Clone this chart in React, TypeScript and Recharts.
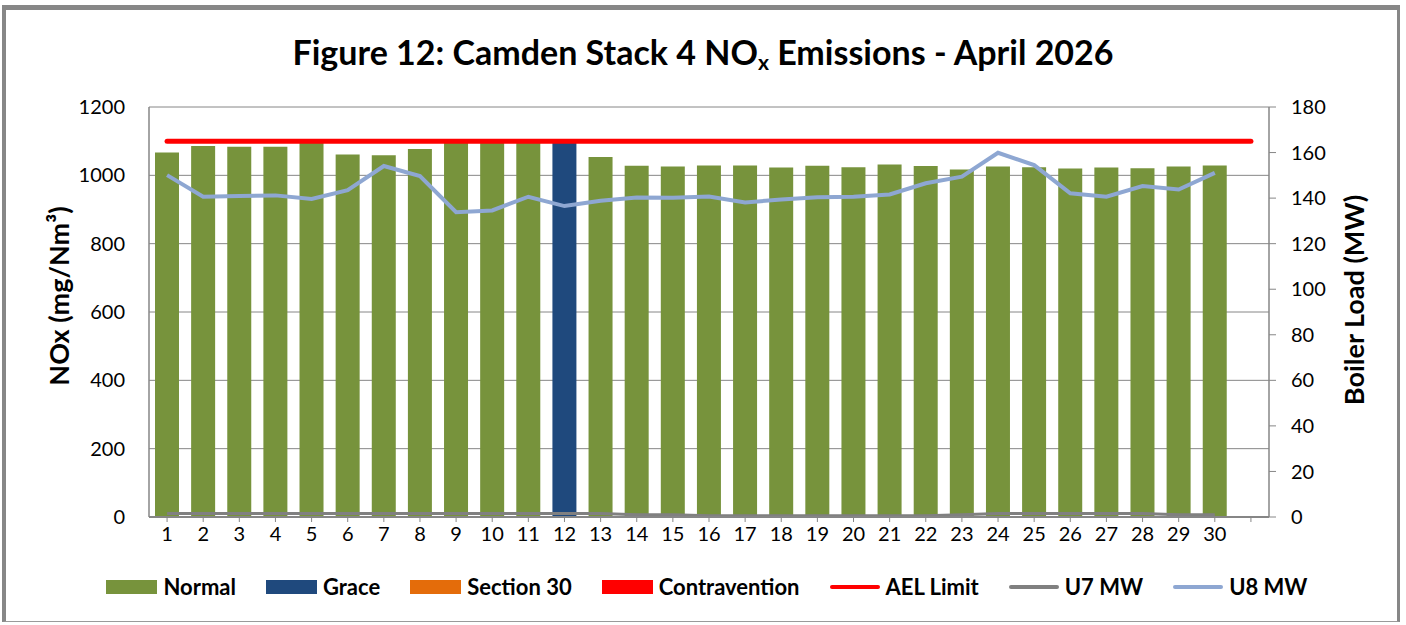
import { ComposedChart, Bar, Line, XAxis, YAxis, CartesianGrid } from 'recharts';

// April has 30 days; the source sheet keeps one spare (blank) row at the end
const days = ['1', '2', '3', '4', '5', '6', '7', '8', '9', '10', '11', '12', '13', '14', '15', '16', '17', '18', '19', '20', '21', '22', '23', '24', '25', '26', '27', '28', '29', '30', ''];

const normal = [1067, 1086, 1084, 1084, 1096, 1061, 1059, 1077, 1098, 1097, 1098, null, 1054, 1028, 1026, 1029, 1029, 1023, 1028, 1024, 1032, 1027, 1017, 1026, 1024, 1020, 1023, 1021, 1026, 1029, null];
const grace = [null, null, null, null, null, null, null, null, null, null, null, 1100, null, null, null, null, null, null, null, null, null, null, null, null, null, null, null, null, null, null, null];
const section30: (number | null)[] = [];
const contravention: (number | null)[] = [];

const aelLimit = [1100, 1100, 1100, 1100, 1100, 1100, 1100, 1100, 1100, 1100, 1100, 1100, 1100, 1100, 1100, 1100, 1100, 1100, 1100, 1100, 1100, 1100, 1100, 1100, 1100, 1100, 1100, 1100, 1100, 1100, 1100];
const u7MW = [1.5, 1.5, 1.5, 1.5, 1.5, 1.5, 1.5, 1.5, 1.5, 1.5, 1.5, 1.5, 1.5, 1, 1, 0.5, 0.5, 0.5, 0.5, 0.5, 0.5, 0.5, 1, 1.5, 1.5, 1.5, 1.5, 1.5, 1, 1, null];
const u8MW = [150.1, 140.6, 140.9, 141.2, 139.6, 143.5, 154.1, 149.7, 133.8, 134.6, 140.6, 136.5, 138.8, 140.3, 140.2, 140.7, 138.1, 139.4, 140.4, 140.6, 141.6, 146.5, 149.4, 159.9, 154.5, 142.1, 140.6, 145.3, 143.8, 151.1, null];

const noxTicks = [0, 200, 400, 600, 800, 1000, 1200];
const mwTicks = [0, 20, 40, 60, 80, 100, 120, 140, 160, 180];

const COLORS = {
  normal: '#77933C',
  grace: '#1F497D',
  section30: '#E46C0A',
  contravention: '#FF0000',
  ael: '#FF0000',
  u7: '#808080',
  u8: '#8EA7D2',
  axis: '#868686',
};

const FONT = 'Lato, "Open Sans", sans-serif';

const legendItems = [
  { name: 'Normal', color: COLORS.normal, kind: 'box' },
  { name: 'Grace', color: COLORS.grace, kind: 'box' },
  { name: 'Section 30', color: COLORS.section30, kind: 'box' },
  { name: 'Contravention', color: COLORS.contravention, kind: 'box' },
  { name: 'AEL Limit', color: COLORS.ael, kind: 'line' },
  { name: 'U7 MW', color: COLORS.u7, kind: 'line' },
  { name: 'U8 MW', color: COLORS.u8, kind: 'line' },
];

export default function App() {
  const data = days.map((day, i) => ({
    day,
    normal: normal[i] ?? null,
    grace: grace[i] ?? null,
    section30: section30[i] ?? null,
    contravention: contravention[i] ?? null,
    ael: aelLimit[i] ?? null,
    u7: u7MW[i] ?? null,
    u8: u8MW[i] ?? null,
  }));

  const tick = { fill: '#000', fontSize: 20, fontFamily: FONT };

  return (
    <div style={{ position: 'absolute', left: 0, top: 0, width: 1406, height: 625, background: '#fff', fontFamily: FONT }}>
      {/* chart frame */}
      <div
        style={{
          position: 'absolute',
          left: 2,
          top: 5,
          width: 1398,
          height: 617,
          borderTop: '5px solid #878787',
          borderLeft: '4px solid #878787',
          borderRight: '3px solid #878787',
          borderBottom: '1px solid #9a9a9a',
          boxSizing: 'border-box',
        }}
      />
      <div
        style={{
          position: 'absolute',
          left: 0,
          width: 1406,
          top: 30,
          textAlign: 'center',
          fontSize: 34,
          fontWeight: 700,
          lineHeight: '44px',
          color: '#000',
        }}
      >
        Figure 12: Camden Stack 4 NO<sub style={{ fontSize: '0.62em', verticalAlign: '-0.25em' }}>x</sub> Emissions - April 2026
      </div>

      <div style={{ position: 'absolute', left: 0, top: 0 }}>
        <ComposedChart
          width={1406}
          height={625}
          data={data}
          margin={{ top: 107, right: 57, bottom: 78, left: 89 }}
          barCategoryGap={0}
        >
          <CartesianGrid yAxisId="left" vertical={false} stroke={COLORS.axis} strokeWidth={1} />
          <XAxis
            dataKey="day"
            interval={0}
            height={30}
            tick={tick}
            tickSize={5}
            tickMargin={5}
            axisLine={{ stroke: COLORS.axis, strokeWidth: 2 }}
            tickLine={{ stroke: COLORS.axis }}
          />
          <YAxis
            yAxisId="left"
            width={60}
            domain={[0, 1200]}
            ticks={noxTicks}
            interval={0}
            tick={tick}
            tickLine={false}
            tickMargin={18}
            axisLine={{ stroke: COLORS.axis, strokeWidth: 1.5 }}
          />
          <YAxis
            yAxisId="right"
            orientation="right"
            width={80}
            domain={[0, 180]}
            ticks={mwTicks}
            interval={0}
            tick={tick}
            tickSize={7}
            tickMargin={15}
            tickLine={{ stroke: COLORS.axis }}
            axisLine={{ stroke: COLORS.axis, strokeWidth: 1.5 }}
          />
          <Bar yAxisId="left" dataKey="normal" stackId="nox" fill={COLORS.normal} barSize={24} isAnimationActive={false} />
          <Bar yAxisId="left" dataKey="grace" stackId="nox" fill={COLORS.grace} barSize={24} isAnimationActive={false} />
          <Bar yAxisId="left" dataKey="section30" stackId="nox" fill={COLORS.section30} barSize={24} isAnimationActive={false} />
          <Bar yAxisId="left" dataKey="contravention" stackId="nox" fill={COLORS.contravention} barSize={24} isAnimationActive={false} />
          <Line yAxisId="right" dataKey="u7" stroke={COLORS.u7} strokeWidth={3} dot={false} activeDot={false} isAnimationActive={false} />
          <Line yAxisId="right" dataKey="u8" stroke={COLORS.u8} strokeWidth={4} dot={false} activeDot={false} isAnimationActive={false} />
          <Line
            yAxisId="left"
            dataKey="ael"
            stroke={COLORS.ael}
            strokeWidth={5}
            strokeLinecap="round"
            dot={false}
            activeDot={false}
            isAnimationActive={false}
          />
        </ComposedChart>
      </div>

      {/* axis titles */}
      <div
        style={{
          position: 'absolute',
          left: 58,
          top: 296,
          transform: 'translate(-50%, -50%) rotate(-90deg)',
          whiteSpace: 'nowrap',
          fontSize: 27,
          fontWeight: 700,
          color: '#000',
        }}
      >
        NOx (mg/Nm³)
      </div>
      <div
        style={{
          position: 'absolute',
          left: 1353,
          top: 300,
          transform: 'translate(-50%, -50%) rotate(-90deg)',
          whiteSpace: 'nowrap',
          fontSize: 27,
          fontWeight: 700,
          color: '#000',
        }}
      >
        Boiler Load (MW)
      </div>

      {/* legend */}
      <div
        style={{
          position: 'absolute',
          left: 0,
          width: 1414,
          top: 573,
          display: 'flex',
          justifyContent: 'center',
          alignItems: 'center',
          gap: 30,
          fontSize: 22,
          fontWeight: 700,
          color: '#000',
        }}
      >
        {legendItems.map((item) => (
          <div key={item.name} style={{ display: 'flex', alignItems: 'center', gap: 6 }}>
            {item.kind === 'box' ? (
              <span style={{ width: 51, height: 14, background: item.color, display: 'inline-block' }} />
            ) : (
              <span style={{ width: 50, height: 4, borderRadius: 2, background: item.color, display: 'inline-block' }} />
            )}
            <span>{item.name}</span>
          </div>
        ))}
      </div>
    </div>
  );
}
